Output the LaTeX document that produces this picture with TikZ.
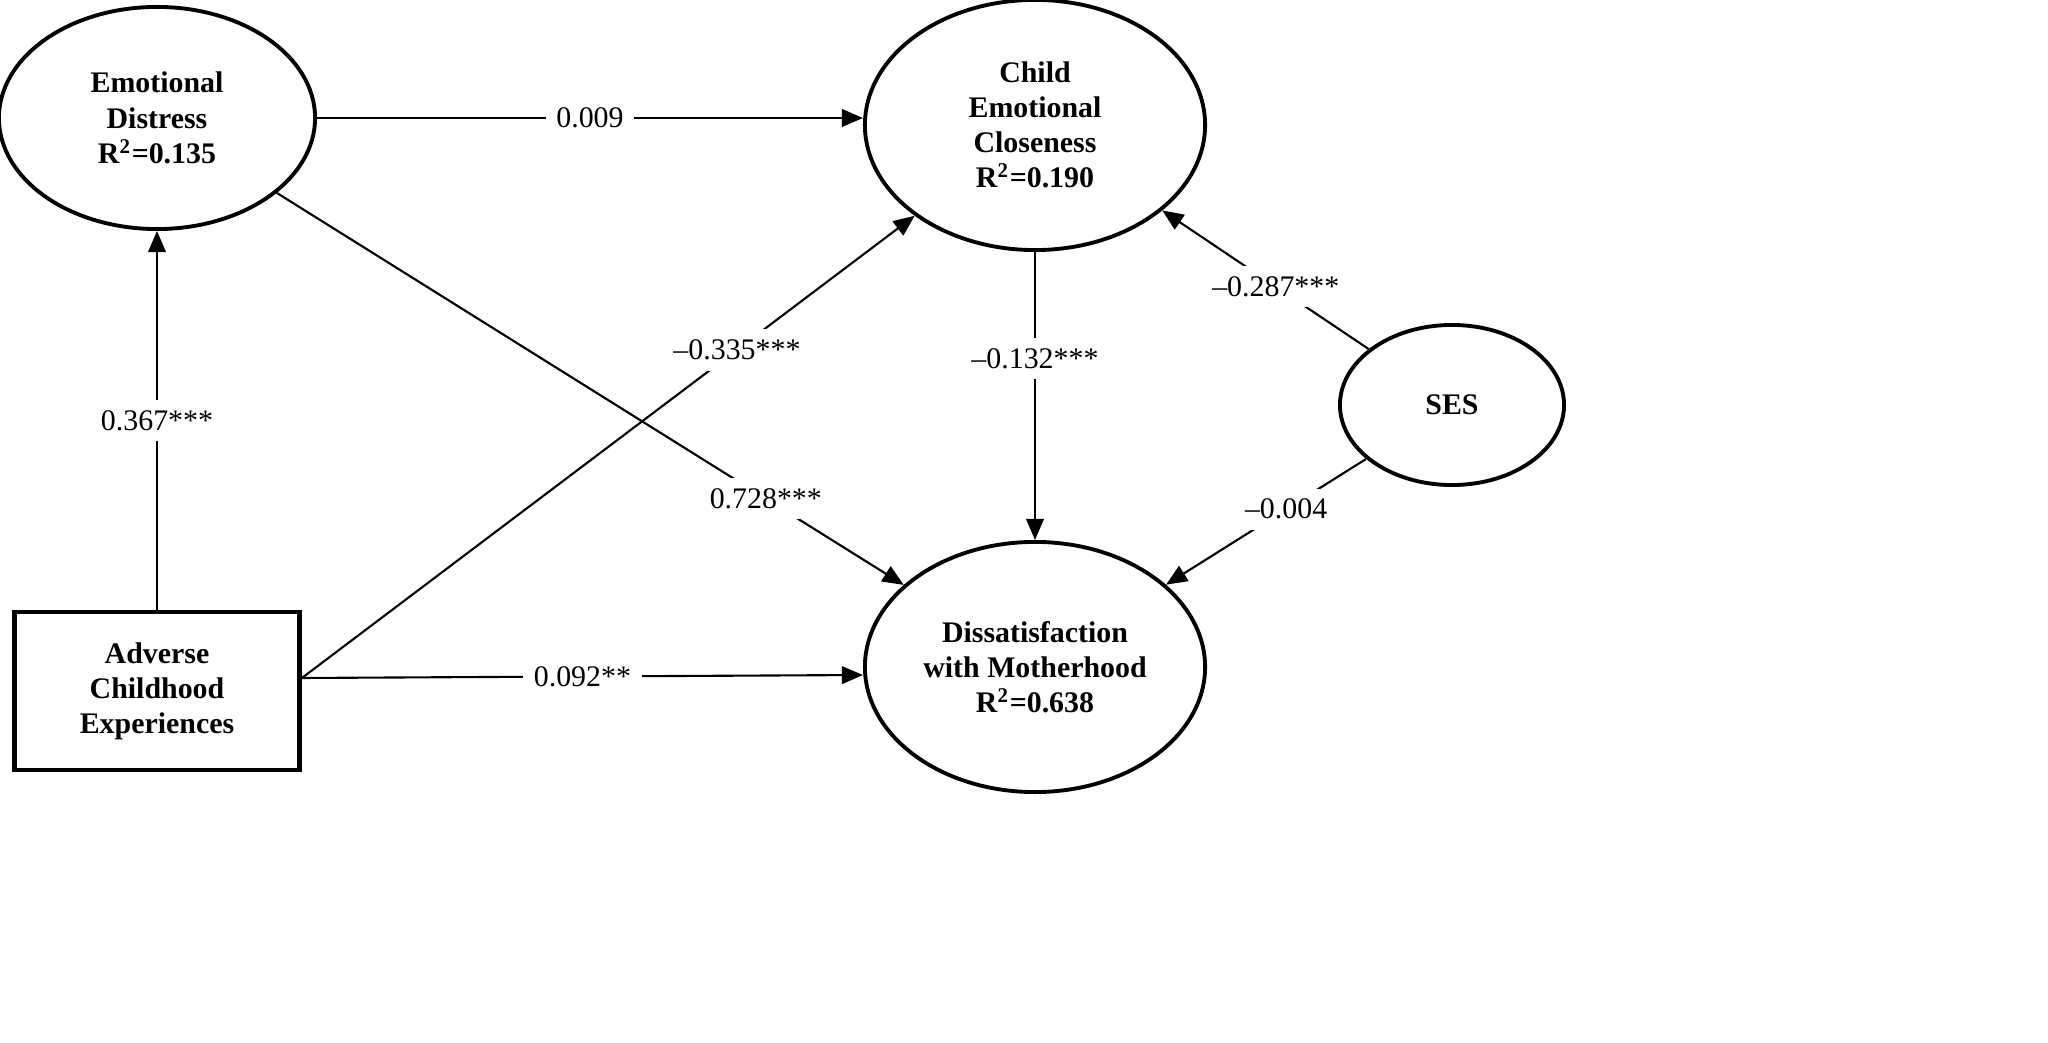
\documentclass[tikz,border=0pt]{standalone}
\usepackage{fontspec}
\setmainfont{Liberation Serif}
\usetikzlibrary{arrows.meta,shapes.geometric}
\begin{document}
\begin{tikzpicture}[x=0.01cm,y=-0.01cm,
  lat/.style={ellipse,draw,line width=1.1pt,font=\bfseries\fontsize{8.5}{10}\selectfont,align=center,inner sep=0pt},
  obs/.style={rectangle,draw,line width=1.3pt,font=\bfseries\fontsize{8.5}{10}\selectfont,align=center,inner sep=0pt},
  path/.style={line width=0.6pt,-{Triangle[length=6pt,width=5pt]}},
  lab/.style={fill=white,font=\fontsize{8.5}{10}\selectfont,inner sep=3pt}]
\useasboundingbox (0,0) rectangle (2048,1043);
\node[lat,minimum width=3.16cm,minimum height=2.22cm] (ED) at (157,118) {Emotional\\Distress\\R\textsuperscript{2}=0.135};
\node[lat,minimum width=3.4cm,minimum height=2.5cm] (CEC) at (1035,125) {Child\\Emotional\\Closeness\\R\textsuperscript{2}=0.190};
\node[lat,minimum width=2.24cm,minimum height=1.6cm] (SES) at (1452,405) {SES};
\node[lat,minimum width=3.4cm,minimum height=2.5cm] (DM) at (1035,667) {Dissatisfaction\\with Motherhood\\R\textsuperscript{2}=0.638};
\node[obs,minimum width=2.85cm,minimum height=1.58cm] (ACE) at (157,691) {Adverse\\Childhood\\Experiences};
\coordinate (acep) at ([yshift=0.13cm]ACE.east);
\draw[path] (ED.east) -- (CEC.west |- ED.east) node[lab,pos=0.5] {0.009};
\draw[path] (ED) -- (DM) node[lab,pos=0.78] {0.728***};
\draw[path] (ACE.north) -- (ED.south) node[lab,pos=0.5] {0.367***};
\draw[path] (acep) -- (CEC) node[lab,pos=0.71] {\textendash0.335***};
\draw[path] (acep) -- ([yshift=-0.08cm]DM.west) node[lab,pos=0.5] {0.092**};
\draw[path] (CEC.south) -- (DM.north) node[lab,pos=0.37] {\textendash0.132***};
\draw[path] (SES) -- (CEC) node[lab,pos=0.45] {\textendash0.287***};
\draw[path] (SES) -- (DM) node[lab,pos=0.4] {\textendash0.004};
\end{tikzpicture}
\end{document}
